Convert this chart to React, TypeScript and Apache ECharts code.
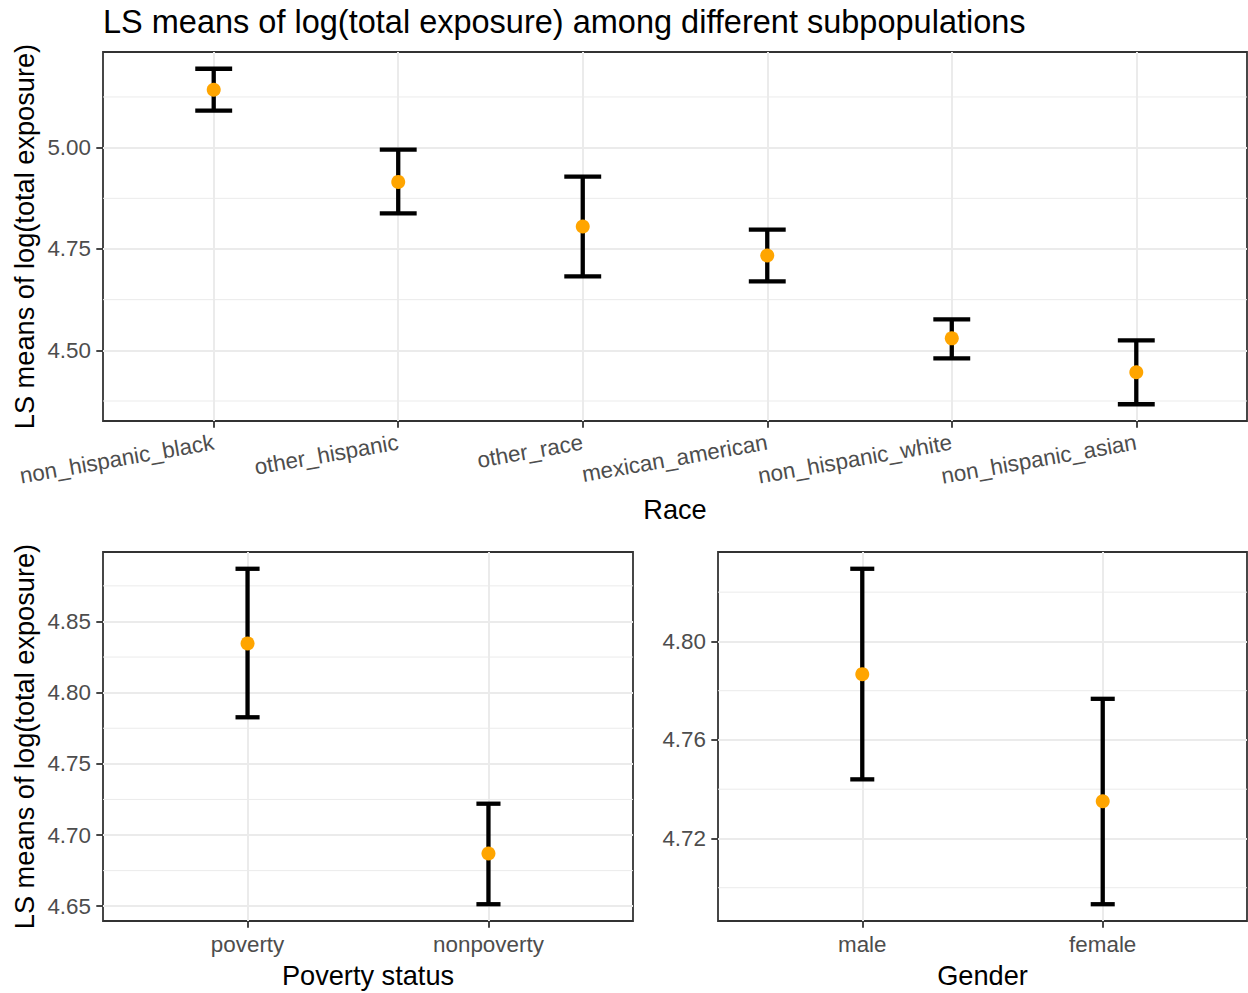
import React, { useEffect, useRef } from 'react';
import * as echarts from 'echarts';

// ---- Data ----
const raceCategories = ['non_hispanic_black', 'other_hispanic', 'other_race', 'mexican_american', 'non_hispanic_white', 'non_hispanic_asian'];
const raceMean = [5.143, 4.9155, 4.8054, 4.734, 4.5296, 4.4458];
const raceLower = [5.0911, 4.838, 4.6823, 4.67, 4.4803, 4.367];
const raceUpper = [5.1946, 4.9951, 4.9286, 4.798, 4.5764, 4.5246];
const raceTicks = [4.5, 4.75, 5.0];
const raceMinor = [4.375, 4.625, 4.875, 5.125];

const povertyCategories = ['poverty', 'nonpoverty'];
const povertyMean = [4.8346, 4.687];
const povertyLower = [4.7827, 4.6514];
const povertyUpper = [4.887, 4.722];
const povertyTicks = [4.65, 4.7, 4.75, 4.8, 4.85];
const povertyMinor = [4.675, 4.725, 4.775, 4.825, 4.875];

const genderCategories = ['male', 'female'];
const genderMean = [4.7867, 4.7351];
const genderLower = [4.744, 4.6933];
const genderUpper = [4.8295, 4.7767];
const genderTicks = [4.72, 4.76, 4.8];
const genderMinor = [4.7, 4.74, 4.78, 4.82];

const FONT = 'Liberation Sans, Arial, Helvetica, sans-serif';
const TICK_FONT = 22.4;

function expandRange(lo: number[], hi: number[]) {
  const mn = Math.min(...lo);
  const mx = Math.max(...hi);
  const r = mx - mn;
  return [mn - 0.05 * r, mx + 0.05 * r];
}

function errorBarRender(capWidth: number) {
  return (params: any, api: any) => {
    const x = api.value(0);
    const lo = api.coord([x, api.value(1)]);
    const hi = api.coord([x, api.value(2)]);
    const half = api.size([capWidth, 0])[0] / 2;
    const style = { stroke: '#000000', lineWidth: 4.3, lineCap: 'butt' };
    return {
      type: 'group',
      children: [
        { type: 'line', shape: { x1: lo[0], y1: lo[1], x2: hi[0], y2: hi[1] }, style },
        { type: 'line', shape: { x1: hi[0] - half, y1: hi[1], x2: hi[0] + half, y2: hi[1] }, style },
        { type: 'line', shape: { x1: lo[0] - half, y1: lo[1], x2: lo[0] + half, y2: lo[1] }, style },
      ],
    };
  };
}

function minorRender(params: any, api: any) {
  const cs = params.coordSys;
  const y = api.coord([api.value(0), api.value(1)])[1];
  return {
    type: 'line',
    shape: { x1: cs.x, y1: y, x2: cs.x + cs.width, y2: y },
    style: { stroke: '#EBEBEB', lineWidth: 1 },
  };
}

export default function App() {
  const ref = useRef<HTMLDivElement>(null);
  useEffect(() => {
    if (!ref.current) return;
    const chart = echarts.init(ref.current, undefined, { renderer: 'svg' });

    const panels = [
      { cats: raceCategories, mean: raceMean, lower: raceLower, upper: raceUpper, ticks: raceTicks, minor: raceMinor, cap: 0.2, rotate: 10, xMargin: 21 },
      { cats: povertyCategories, mean: povertyMean, lower: povertyLower, upper: povertyUpper, ticks: povertyTicks, minor: povertyMinor, cap: 0.1, rotate: 0, xMargin: 12 },
      { cats: genderCategories, mean: genderMean, lower: genderLower, upper: genderUpper, ticks: genderTicks, minor: genderMinor, cap: 0.1, rotate: 0, xMargin: 12 },
    ];

    const grids = [
      { left: 103, top: 52, width: 1144, height: 369 },
      { left: 103, top: 552, width: 530, height: 369 },
      { left: 718, top: 552, width: 529, height: 369 },
    ].map((g) => ({ ...g, show: true, borderColor: '#333333', borderWidth: 1.8, backgroundColor: 'transparent', containLabel: false }));

    const xAxis: any[] = [];
    const yAxis: any[] = [];
    const series: any[] = [];

    panels.forEach((p, i) => {
      const catPos = p.cats.map((_, k) => k + 1);
      const [ymin, ymax] = expandRange(p.lower, p.upper);
      xAxis.push({
        type: 'value',
        gridIndex: i,
        min: 0.4,
        max: p.cats.length + 0.6,
        axisLine: { show: false },
        axisTick: { show: true, customValues: catPos, length: 6.7, lineStyle: { color: '#333333', width: 1.8 } },
        axisLabel: {
          customValues: catPos,
          formatter: (v: number) => p.cats[Math.round(v) - 1] ?? '',
          rotate: p.rotate,
          margin: p.xMargin,
          color: '#4D4D4D',
          fontSize: TICK_FONT,
          fontFamily: FONT,
        },
        splitLine: { show: true, lineStyle: { color: '#EBEBEB', width: 2 } },
      });
      yAxis.push({
        type: 'value',
        gridIndex: i,
        min: ymin,
        max: ymax,
        axisLine: { show: false },
        axisTick: { show: true, customValues: p.ticks, length: 6.7, lineStyle: { color: '#333333', width: 1.8 } },
        axisLabel: {
          customValues: p.ticks,
          formatter: (v: number) => v.toFixed(2),
          margin: 12,
          color: '#4D4D4D',
          fontSize: TICK_FONT,
          fontFamily: FONT,
        },
        splitLine: { show: true, lineStyle: { color: '#EBEBEB', width: 2 } },
      });
      series.push({
        type: 'custom',
        xAxisIndex: i,
        yAxisIndex: i,
        z: 1,
        silent: true,
        renderItem: minorRender,
        data: p.minor.map((v) => [1, v]),
      });
      series.push({
        type: 'custom',
        xAxisIndex: i,
        yAxisIndex: i,
        z: 3,
        renderItem: errorBarRender(p.cap),
        data: catPos.map((x, k) => [x, p.lower[k], p.upper[k]]),
      });
      series.push({
        type: 'scatter',
        xAxisIndex: i,
        yAxisIndex: i,
        z: 4,
        symbol: 'circle',
        symbolSize: 14,
        itemStyle: { color: '#FFA500', opacity: 1 },
        data: catPos.map((x, k) => [x, p.mean[k]]),
      });
    });

    const titleStyle = (text: string, size: number) => ({
      text,
      font: `${size}px ${FONT}`,
      fill: '#000000',
      textAlign: 'center',
      textVerticalAlign: 'middle',
    });

    chart.setOption({
      animation: false,
      backgroundColor: '#FFFFFF',
      grid: grids,
      xAxis,
      yAxis,
      series,
      graphic: [
        {
          type: 'text',
          x: 103,
          y: 22,
          style: { text: 'LS means of log(total exposure) among different subpopulations', font: `32.5px ${FONT}`, fill: '#000000', textAlign: 'left', textVerticalAlign: 'middle' },
        },
        { type: 'text', x: 675, y: 509, style: titleStyle('Race', 27.2) },
        { type: 'text', x: 368, y: 975, style: titleStyle('Poverty status', 27.2) },
        { type: 'text', x: 982.5, y: 975, style: titleStyle('Gender', 27.2) },
        { type: 'text', x: 24, y: 236.5, rotation: Math.PI / 2, style: titleStyle('LS means of log(total exposure)', 27.2) },
        { type: 'text', x: 24, y: 736.5, rotation: Math.PI / 2, style: titleStyle('LS means of log(total exposure)', 27.2) },
      ],
    });

    return () => chart.dispose();
  }, []);

  return <div ref={ref} style={{ position: 'absolute', left: 0, top: 0, width: 1248, height: 993 }} />;
}
